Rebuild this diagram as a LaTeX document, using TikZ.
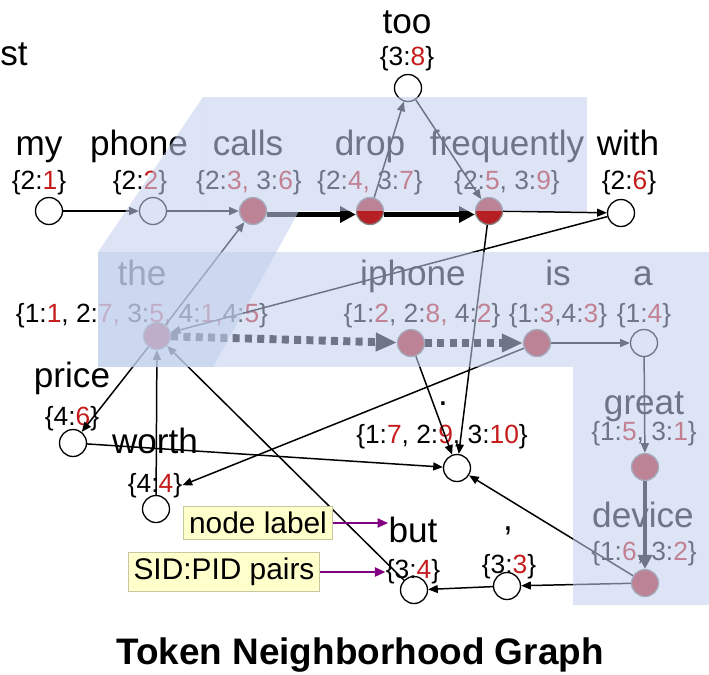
\documentclass[tikz,border=0pt]{standalone}
\usepackage{fontspec}
\setmainfont{Liberation Sans}
\usepackage{xcolor}
\usetikzlibrary{arrows.meta, positioning}
\definecolor{pidred}{RGB}{196,28,28}
\definecolor{hitred}{RGB}{182,32,36}
\definecolor{shade}{RGB}{193,207,237}
\definecolor{notebox}{RGB}{255,255,204}
\definecolor{noteline}{RGB}{200,200,160}
\definecolor{notearrow}{RGB}{128,0,128}
\newcommand{\pid}[1]{\textcolor{pidred}{#1}}

\begin{document}
\begin{tikzpicture}[x=0.02cm, y=-0.02cm,
        tok/.style={circle, draw, fill=white, line width=0.75pt, minimum size=0.54cm, inner sep=0pt},
        hit/.style={tok, draw=gray, fill=hitred},
        word/.style={anchor=base, inner sep=0pt, font=\fontsize{20}{22}\selectfont},
        pairs/.style={anchor=base, inner sep=0pt, font=\fontsize{15}{17}\selectfont},
        link/.style={-{Triangle[length=5.5pt,width=4.5pt]}, line width=0.85pt},
        heavy/.style={-{Triangle[length=9pt,width=9pt]}, line width=3.4pt, transform canvas={yshift=-0.07cm}},
        dotline/.style={-{Triangle[length=12pt,width=10pt]}, line width=4.5pt, dash pattern=on 4pt off 3pt},
        note/.style={draw=noteline, fill=notebox, inner sep=3pt, font=\fontsize{17}{19}\selectfont},
        pointer/.style={-{Triangle[length=6pt,width=5pt]}, line width=1.4pt, notearrow},
        panel/.style={fill=shade, fill opacity=0.57}
    ]
        \useasboundingbox (0,0) rectangle (709,674);

        \node[anchor=base west, inner sep=0pt, font=\fontsize{20}{22}\selectfont] (cut) at (0,65) {st};

        % token nodes
        \node[tok] (my) at (49,211) {};
        \node[tok] (phone) at (153,211) {};
        \node[hit] (calls) at (253,211) {};
        \node[hit] (drop) at (370,211) {};
        \node[hit] (freq) at (489,211) {};
        \node[tok] (with) at (621,213) {};
        \node[tok] (too) at (408,88) {};
        \node[hit] (the) at (157,336) {};
        \node[hit] (iphone) at (411,343) {};
        \node[hit] (is) at (537,343) {};
        \node[tok] (a) at (644,343) {};
        \node[hit] (great) at (645,467) {};
        \node[hit] (device) at (645,583) {};
        \node[tok] (price) at (73,443) {};
        \node[tok] (worth) at (156,509) {};
        \node[tok] (period) at (457,468) {};
        \node[tok] (comma) at (507,586) {};
        \node[tok] (but) at (414,590) {};

        % words and SID:PID pairs
        \node[word] (myw) at (39,155) {my};
        \node[pairs] (myp) at (39,189) {\{2:\pid{1}\}};
        \node[word] (phonew) at (139,155) {phone};
        \node[pairs] (phonep) at (140,189) {\{2:\pid{2}\}};
        \node[word] (callsw) at (248,155) {calls};
        \node[pairs] (callsp) at (249,189) {\{2:\pid{3,} 3:\pid{6}\}};
        \node[word] (dropw) at (370,155) {drop};
        \node[pairs] (dropp) at (370,189) {\{2:\pid{4,} 3:\pid{7}\}};
        \node[word] (freqw) at (507,155) {frequently};
        \node[pairs] (freqp) at (507,189) {\{2:\pid{5}, 3:\pid{9}\}};
        \node[word] (withw) at (628,155) {with};
        \node[pairs] (withp) at (629,189) {\{2:\pid{6}\}};
        \node[word] (toow) at (407,33) {too};
        \node[pairs] (toop) at (407,65) {\{3:\pid{8}\}};
        \node[word] (thew) at (142,285) {the};
        \node[pairs] (thep) at (142,322) {\{1:\pid{1}, 2:\pid{7,} 3:\pid{5,} 4:\pid{1,}4:\pid{5}\}};
        \node[word] (iphonew) at (413,285) {iphone};
        \node[pairs] (iphonep) at (422,322) {\{1:\pid{2}, 2:\pid{8,} 4:\pid{2}\}};
        \node[word] (isw) at (558,285) {is};
        \node[pairs] (isp) at (558,322) {\{1:\pid{3},4:\pid{3}\}};
        \node[word] (aw) at (643,285) {a};
        \node[pairs] (ap) at (644,322) {\{1:\pid{4}\}};
        \node[word] (greatw) at (644,414) {great};
        \node[pairs] (greatp) at (644,440) {\{1:\pid{5}, 3:\pid{1}\}};
        \node[word] (devicew) at (643,527) {device};
        \node[pairs] (devicep) at (644,560) {\{1:\pid{6}, 3:\pid{2}\}};
        \node[word] (pricew) at (72,387) {price};
        \node[pairs] (pricep) at (72,425) {\{4:\pid{6}\}};
        \node[word] (worthw) at (155,453) {worth};
        \node[pairs] (worthp) at (155,492) {\{4:\pid{4}\}};
        \node[word] (periodw) at (443,405) {.};
        \node[pairs] (periodp) at (442,443) {\{1:\pid{7}, 2:\pid{9}, 3:\pid{10}\}};
        \node[word] (commaw) at (508,530) {,};
        \node[pairs] (commap) at (509,573) {\{3:\pid{3}\}};
        \node[word] (butw) at (413,542) {but};
        \node[pairs] (butp) at (413,578) {\{3:\pid{4}\}};

        % edges
        \draw[link] (my) -- (phone);
        \draw[link] (phone) -- (calls);
        \draw[heavy] (calls) -- (drop);
        \draw[heavy] (drop) -- (freq);
        \draw[link] (freq) -- (with);
        \draw[link] (drop) -- (too);
        \draw[link] (too) -- (freq);
        \draw[link] (the) -- (calls);
        \draw[link] (with) -- (the);
        \draw[dotline] (the) -- (iphone);
        \draw[dotline] (iphone) -- (is);
        \draw[link] (is) -- (a);
        \draw[link] (a) -- (great);
        \draw[-{Triangle[length=8pt,width=8pt]}, line width=2.3pt] (great) -- (device);
        \draw[link] (freq) -- (period);
        \draw[link] (iphone) -- (period);
        \draw[link] (is) -- (worthp.east);
        \draw[link] (the) -- (price);
        \draw[link] (price) -- (period);
        \draw[link] (worth) -- (the);
        \draw[link] (but) -- (the);
        \draw[link] (device) -- (period);
        \draw[link] (device) -- (comma);
        \draw[link] (comma) -- (but);

        % shaded sentence panels
        \fill[panel] (203,97) rectangle (587,211);
        \fill[panel] (203,97) -- (203,211) -- (299,211) -- (213,367) -- (98,367) -- (98,252) -- cycle;
        \fill[panel] (98,252) rectangle (709,367);
        \fill[panel] (573,367) rectangle (709,605);

        % legend
        \node[note] (lbl) at (258,523) {node label};
        \node[note] (sid) at (224,572) {SID:PID pairs};
        \draw[pointer] (lbl) -- (lbl -| butw.west);
        \draw[pointer] (sid) -- (sid -| butp.west);

        \node[font=\bfseries\fontsize{21}{23}\selectfont] (title) at (360,655) {Token Neighborhood Graph};
    \end{tikzpicture}
\end{document}
